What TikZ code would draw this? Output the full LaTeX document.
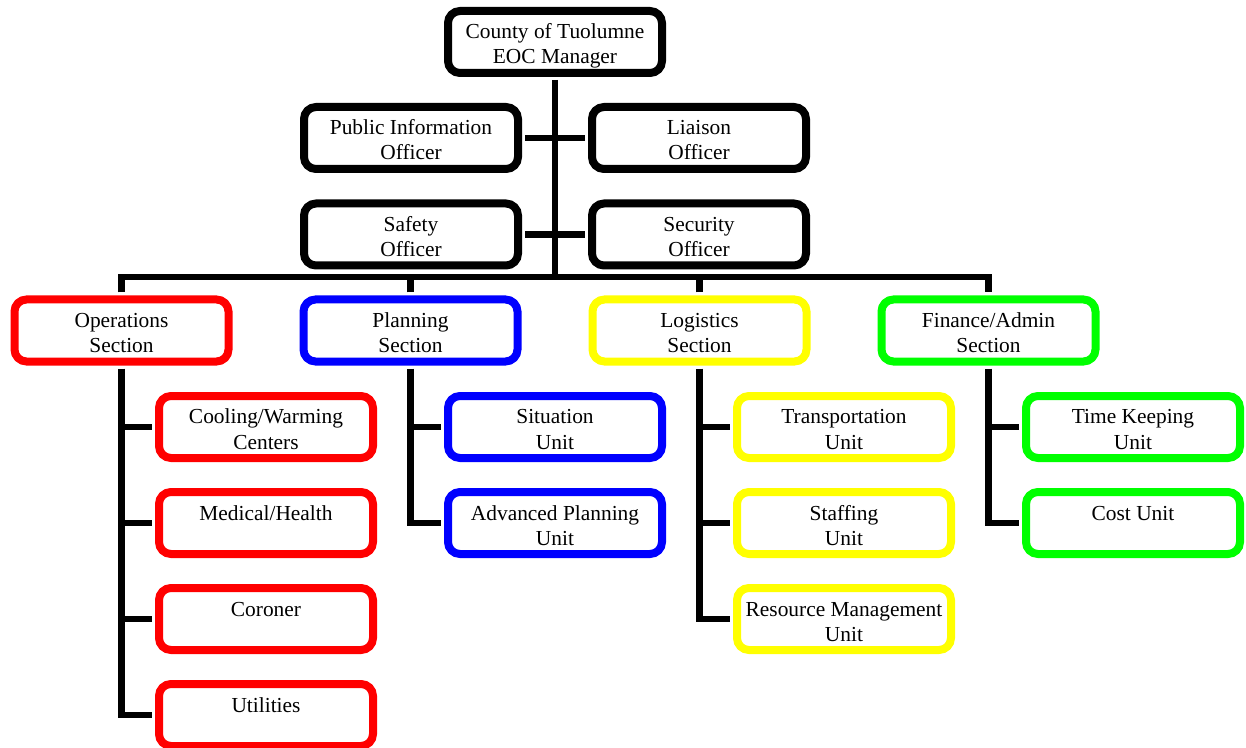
\documentclass[tikz,border=0pt]{standalone}
\usepackage{fontspec}
\setmainfont{Liberation Serif}
\definecolor{opsred}{RGB}{255,0,0}
\definecolor{planblue}{RGB}{0,0,255}
\definecolor{logyellow}{RGB}{255,255,0}
\definecolor{fingreen}{RGB}{0,255,0}
\begin{document}
\begin{tikzpicture}[x=0.5pt,y=-0.5pt,
	box/.style={draw=#1,line width=4pt,rounded corners=6pt,minimum width=107pt,minimum height=31pt,
		inner sep=0pt,outer sep=3.5pt,font=\fontsize{10.7}{12.5}\selectfont,
		execute at begin node={\begin{minipage}[c][20.5pt][t]{106pt}\centering\strut},
		execute at end node={\end{minipage}}},
	box/.default=black,
	conn/.style={line width=3.4pt}]
	\useasboundingbox (0,0) rectangle (1246,748);

	% command staff
	\node[box] (mgr) at (555,42) {County of Tuolumne\\EOC Manager};
	\node[box] (pio) at (411,138) {Public Information\\Officer};
	\node[box] (liaison) at (699,138) {Liaison\\Officer};
	\node[box] (safety) at (411,234.5) {Safety\\Officer};
	\node[box] (security) at (699,234.5) {Security\\Officer};

	% sections
	\node[box=opsred] (ops) at (121.5,330.5) {Operations\\Section};
	\node[box=planblue] (plan) at (410.5,330.5) {Planning\\Section};
	\node[box=logyellow] (log) at (699.5,330.5) {Logistics\\Section};
	\node[box=fingreen] (fin) at (988.5,330.5) {Finance/Admin\\Section};

	% units
	\node[box=opsred] (cool) at (266,427) {Cooling/Warming\\Centers};
	\node[box=opsred] (med) at (266,523) {Medical/Health};
	\node[box=opsred] (cor) at (266,619) {Coroner};
	\node[box=opsred] (util) at (266,715) {Utilities};

	\node[box=planblue] (sit) at (555,427) {Situation\\Unit};
	\node[box=planblue] (adv) at (555,523) {Advanced Planning\\Unit};

	\node[box=logyellow] (trans) at (844,427) {Transportation\\Unit};
	\node[box=logyellow] (staff) at (844,523) {Staffing\\Unit};
	\node[box=logyellow] (res) at (844,619) {Resource Management\\Unit};

	\node[box=fingreen] (time) at (1133,427) {Time Keeping\\Unit};
	\node[box=fingreen] (cost) at (1133,523) {Cost Unit};

	% connectors
	\coordinate (bus) at (555,277);
	\draw[conn] (mgr) -- (bus);
	\draw[conn] (pio) -- (liaison);
	\draw[conn] (safety) -- (security);
	\draw[conn] (ops.north) |- (bus) -| (fin.north);
	\draw[conn] (plan.north) -- (plan.north |- bus);
	\draw[conn] (log.north) -- (log.north |- bus);

	\draw[conn] (ops.south) |- (util);
	\foreach \u in {cool,med,cor}
		\draw[conn] (ops.south |- \u) -- (\u);
	\draw[conn] (plan.south) |- (adv);
	\draw[conn] (plan.south |- sit) -- (sit);
	\draw[conn] (log.south) |- (res);
	\foreach \u in {trans,staff}
		\draw[conn] (log.south |- \u) -- (\u);
	\draw[conn] (fin.south) |- (cost);
	\draw[conn] (fin.south |- time) -- (time);
\end{tikzpicture}
\end{document}
